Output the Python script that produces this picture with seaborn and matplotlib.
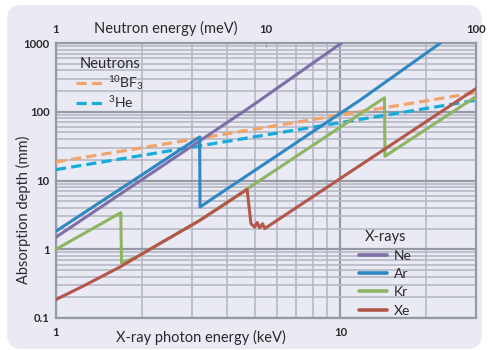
import numpy as np
import pandas as pd
import matplotlib
matplotlib.use("Agg")
import matplotlib.pyplot as plt
import seaborn as sns
from matplotlib.patches import FancyBboxPatch
from matplotlib.ticker import FixedLocator, NullLocator, FixedFormatter, NullFormatter

# ---------------- data ----------------
ne_E = [1.0, 4.82, 10.1]
ne_d = [1.5, 117.0, 1000.0]

ar_E = [1.0, 3.2, 3.21, 11.8, 22.5]
ar_d = [1.83, 43.0, 4.12, 150.0, 1000.0]

kr_E = [1.0, 1.69, 1.70, 1.92, 3.21, 14.3, 14.35, 30.0]
kr_d = [1.0, 3.4, 0.63, 0.77, 2.64, 160.0, 22.5, 166.0]

xe_E = [1.0, 1.23, 1.68, 2.14, 3.21, 4.70, 4.85, 5.0, 5.1, 5.2, 5.33, 5.42, 10.0, 30.0]
xe_d = [0.186, 0.283, 0.553, 1.0, 2.64, 7.4, 2.35, 2.1, 2.45, 2.05, 2.35, 2.0, 10.7, 217.0]

neutron_E = [1.0, 100.0]          # meV
bf3_d = [18.6, 190.0]
he3_d = [14.4, 147.0]

xray_names = ["Ne", "Ar", "Kr", "Xe"]
xray_colors = ["#7d70a8", "#2f87c3", "#8fb462", "#b4574b"]
neutron_names = ["$^{10}$BF$_3$", "$^{3}$He"]
neutron_colors = ["#f2a46a", "#16acd9"]

y_ticks = [0.1, 1, 10, 100, 1000]
y_tick_labels = ["0.1", "1", "10", "100", "1000"]
x_ticks = [1, 10]
x_tick_labels = ["1", "10"]
n_ticks = [1, 10, 100]
n_tick_labels = ["1", "10", "100"]

# ---------------- tables ----------------
xray_df = pd.concat([
    pd.DataFrame({"E": e, "d": d, "gas": n})
    for e, d, n in zip([ne_E, ar_E, kr_E, xe_E], [ne_d, ar_d, kr_d, xe_d], xray_names)
], ignore_index=True)
neutron_df = pd.concat([
    pd.DataFrame({"E": neutron_E, "d": d, "gas": n})
    for d, n in zip([bf3_d, he3_d], neutron_names)
], ignore_index=True)

# ---------------- style ----------------
sns.set_style("white")
plt.rcParams["font.family"] = ["Lato", "DejaVu Sans"]
plt.rcParams["mathtext.fontset"] = "custom"
plt.rcParams["mathtext.rm"] = "Lato"
plt.rcParams["mathtext.it"] = "Lato:italic"
plt.rcParams["mathtext.default"] = "regular"

BG = "#eaeaf4"
TXT = "#2a2a2a"
GRID_MAJ = "#969aa4"
GRID_MIN = "#b6b9c3"

fig = plt.figure(figsize=(4.91, 3.5), dpi=100, facecolor="white")
bg = FancyBboxPatch((7 / 491, 1 / 350), 475 / 491, 344 / 350,
                    boxstyle="round,pad=0,rounding_size=0.03",
                    transform=fig.transFigure, facecolor=BG, edgecolor="none",
                    mutation_aspect=491 / 350, zorder=-10)
fig.patches.append(bg)

rect = [56 / 491, 32 / 350, 420 / 491, 275 / 350]
ax = fig.add_axes(rect)
ax.set_facecolor("none")
ax.set_xscale("log")
ax.set_yscale("log")
ax.set_xlim(1, 30)
ax.set_ylim(0.1, 1000)

ax.xaxis.set_major_locator(FixedLocator(x_ticks))
ax.xaxis.set_major_formatter(FixedFormatter(x_tick_labels))
ax.xaxis.set_minor_locator(FixedLocator([2, 3, 4, 5, 6, 7, 8, 9, 20, 30]))
ax.xaxis.set_minor_formatter(NullFormatter())
ax.yaxis.set_major_locator(FixedLocator(y_ticks))
ax.yaxis.set_major_formatter(FixedFormatter(y_tick_labels))
ax.yaxis.set_minor_locator(FixedLocator([m * 10.0 ** k for k in range(-1, 3) for m in range(2, 10)]))
ax.yaxis.set_minor_formatter(NullFormatter())
ax.grid(which="major", color=GRID_MAJ, lw=1.6)
ax.grid(which="minor", color=GRID_MIN, lw=1.2)
ax.set_axisbelow(True)
ax.tick_params(which="both", length=0, labelsize=8.2, labelcolor=TXT)
ax.tick_params(axis="x", pad=6.5)
ax.tick_params(axis="y", pad=4.5)
for s in ax.spines.values():
    s.set_color(GRID_MAJ)
    s.set_linewidth(1.6)
ax.set_xlabel("X-ray photon energy (keV)", fontsize=10.5, color=TXT)
ax.xaxis.set_label_coords(0.345, -0.042)
ax.set_ylabel("Absorption depth (mm)", fontsize=10.5, color=TXT)
ax.yaxis.set_label_coords(-0.06, 0.395)

# neutron axis (top)
axn = ax.twiny()
axn.set_zorder(ax.get_zorder() + 1)
axn.patch.set_visible(False)
axn.set_xscale("log")
axn.set_xlim(1, 100)
axn.xaxis.set_major_locator(FixedLocator(n_ticks))
axn.xaxis.set_major_formatter(FixedFormatter(n_tick_labels))
axn.xaxis.set_minor_locator(NullLocator())
axn.tick_params(axis="x", direction="in", length=3, color=GRID_MAJ,
                labelsize=8.2, labelcolor=TXT, pad=5.5)
for s in axn.spines.values():
    s.set_visible(False)
axn.set_xlabel("Neutron energy (meV)", fontsize=10.5, color=TXT)
axn.xaxis.set_label_coords(0.262, 1.036)

sns.lineplot(data=neutron_df, x="E", y="d", hue="gas", palette=neutron_colors,
             hue_order=neutron_names, ax=axn, lw=2.3, estimator=None, sort=False,
             dashes=False, linestyle=(0, (3.2, 1.6)))
axn.set_ylabel("")
leg_n = axn.legend(title="Neutrons", loc="upper left", bbox_to_anchor=(0.035, 0.97),
                   frameon=False, fontsize=10, title_fontsize=10.5,
                   handlelength=2.0, handletextpad=0.3, labelspacing=0.2,
                   borderaxespad=0.0)
for h in leg_n.legend_handles:
    h.set_linestyle((0, (3.2, 1.6)))
    h.set_linewidth(2.3)
for t in leg_n.get_texts():
    t.set_color(TXT)
leg_n.get_title().set_color(TXT)

# x-ray layer (top-most)
axx = fig.add_axes(rect, sharex=ax, sharey=ax)
axx.set_zorder(axn.get_zorder() + 1)
axx.patch.set_visible(False)
sns.lineplot(data=xray_df, x="E", y="d", hue="gas",
             palette=xray_colors, hue_order=xray_names, ax=axx, lw=2.2,
             estimator=None, sort=False)
axx.axis("off")
leg_x = axx.legend(title="X-rays", loc="lower right", bbox_to_anchor=(0.86, -0.015),
                   frameon=False, fontsize=10, title_fontsize=10.5,
                   handlelength=2.0, handletextpad=0.5, labelspacing=0.45,
                   borderaxespad=0.0)
for h in leg_x.legend_handles:
    h.set_linewidth(2.6)
for t in leg_x.get_texts():
    t.set_color(TXT)
leg_x.get_title().set_color(TXT)

# make the tick numbers a little heavier, as in the reference
fig.canvas.draw()
for lbl in ax.get_xticklabels() + ax.get_yticklabels() + axn.get_xticklabels():
    lbl.set_fontweight("bold")

fig.savefig("out.png", dpi=100, facecolor="white")
